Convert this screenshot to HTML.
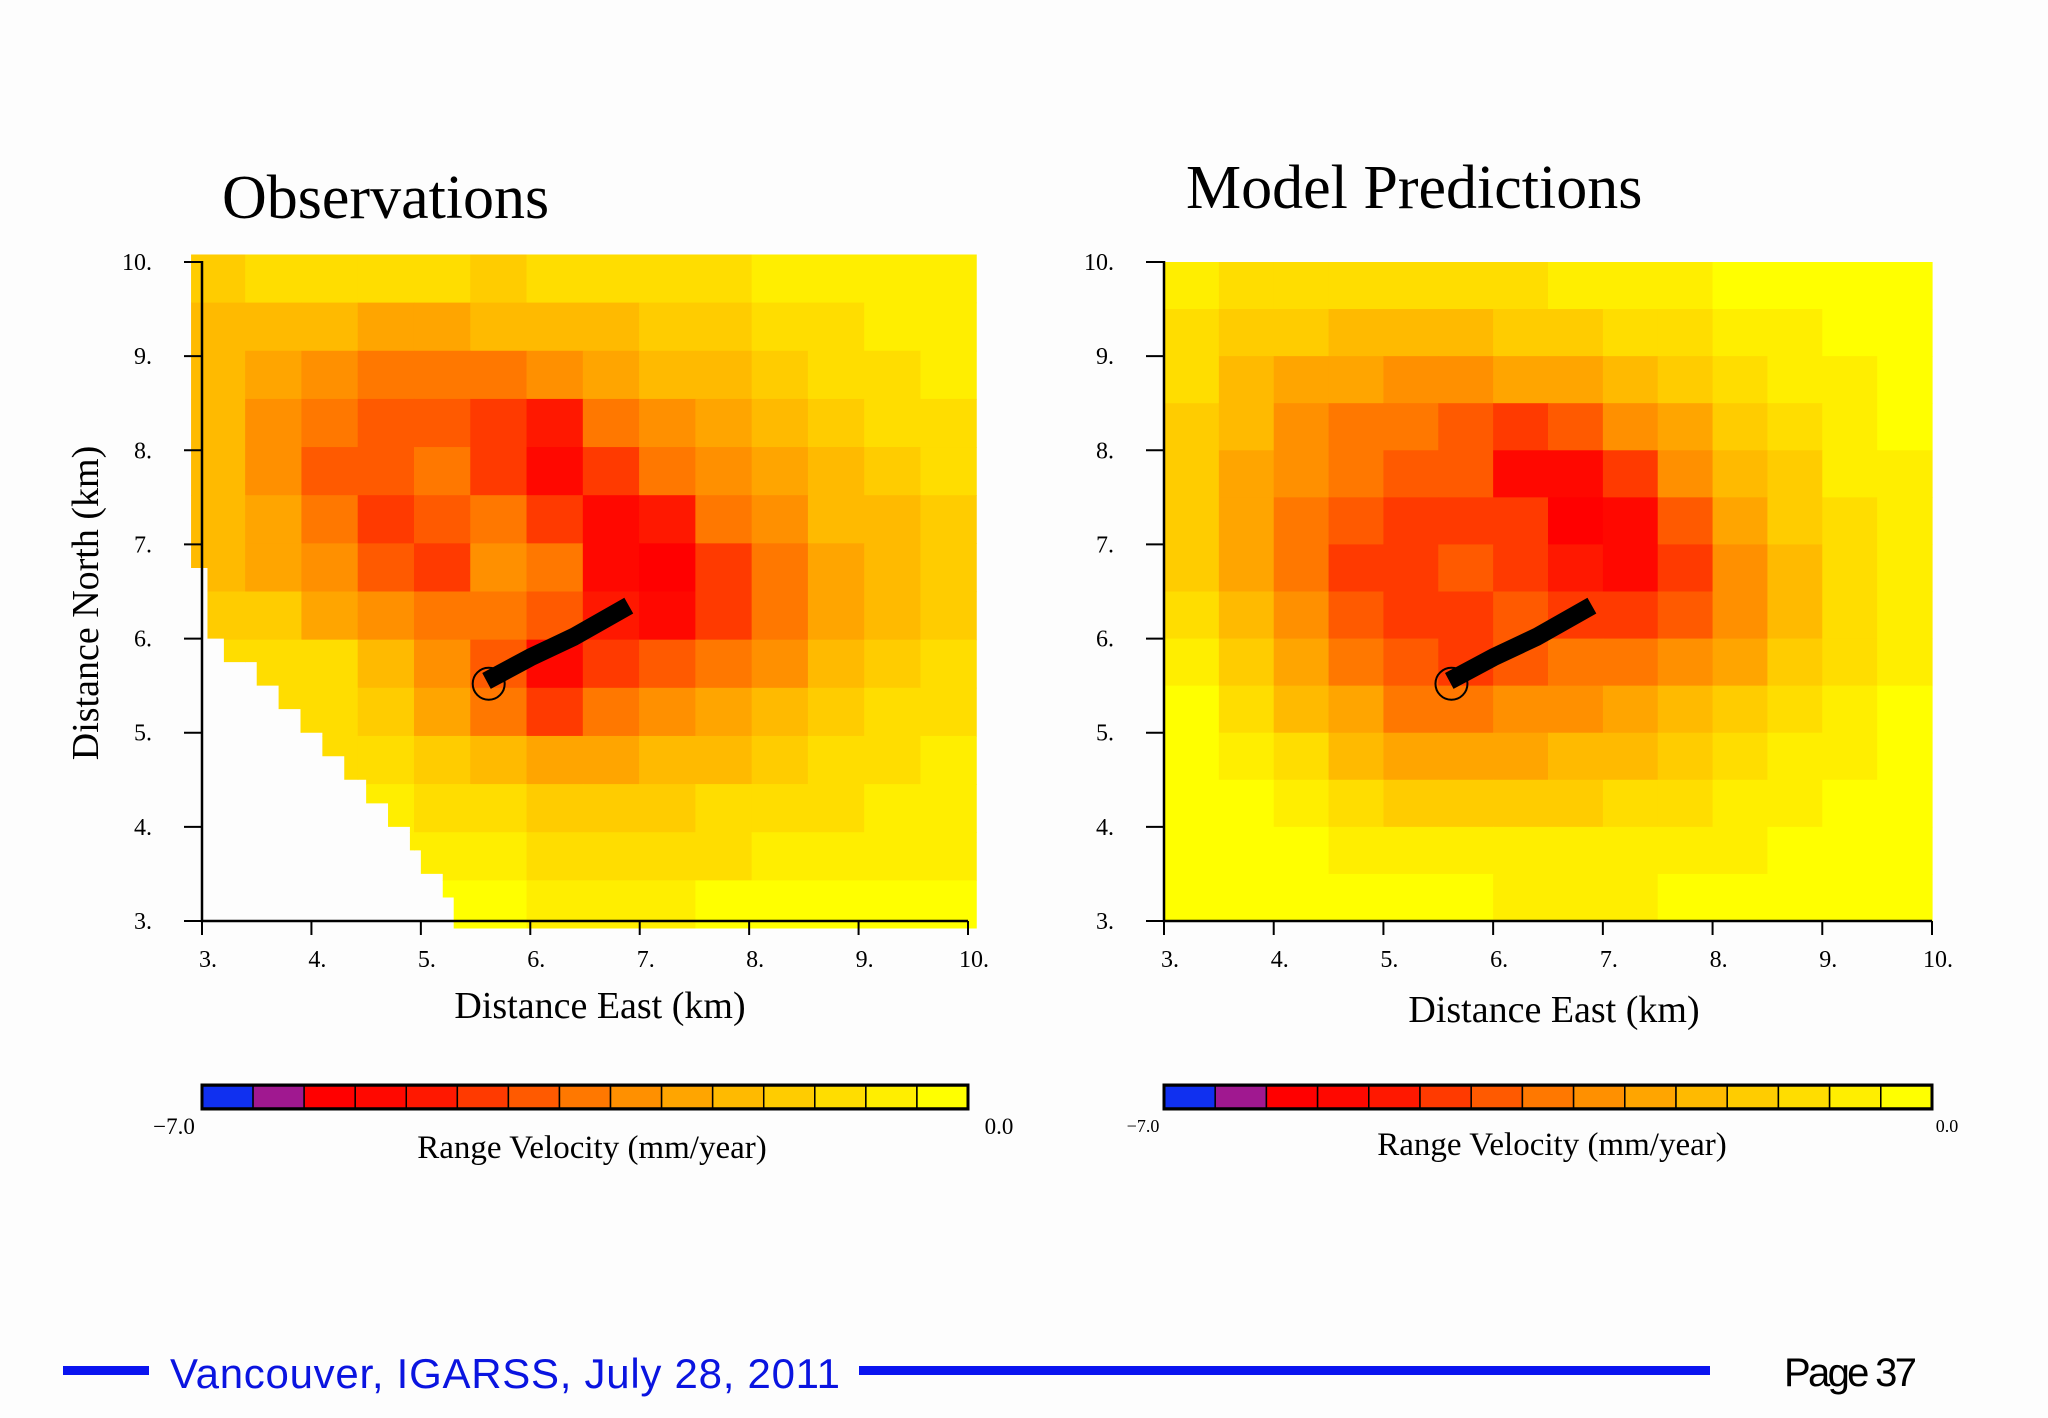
<!DOCTYPE html>
<html><head><meta charset="utf-8"><style>
body{margin:0;background:#fdfdfd;}
svg{display:block;}
text{font-family:"Liberation Serif",serif;fill:#000;}
</style></head><body>
<svg width="2048" height="1418" viewBox="0 0 2048 1418" xmlns="http://www.w3.org/2000/svg">
<rect width="2048" height="1418" fill="#fdfdfd"/>
<text x="222" y="218" font-size="62">Observations</text>
<text x="1186" y="208" font-size="62">Model Predictions</text>
<g id="obs"></g>
<g id="mod"></g>
<g id="cb"></g>
<text x="600" y="1018" font-size="38" text-anchor="middle">Distance East (km)</text>
<text x="1554" y="1022" font-size="38" text-anchor="middle">Distance East (km)</text>
<text transform="translate(98,603) rotate(-90)" font-size="38" text-anchor="middle">Distance North (km)</text>
<text x="592" y="1158" font-size="33" text-anchor="middle">Range Velocity (mm/year)</text>
<text x="1552" y="1155" font-size="33" text-anchor="middle">Range Velocity (mm/year)</text>
<text x="174" y="1134" font-size="23" text-anchor="middle">−7.0</text>
<text x="999" y="1134" font-size="23" text-anchor="middle">0.0</text>
<text x="1143" y="1132" font-size="18" text-anchor="middle">−7.0</text>
<text x="1947" y="1132" font-size="18" text-anchor="middle">0.0</text>
<rect x="63" y="1366" width="86" height="9" fill="#0a14f0"/>
<text x="170" y="1388" font-size="42" style="font-family:'Liberation Sans',sans-serif;fill:#0a14e0" textLength="670">Vancouver, IGARSS, July 28, 2011</text>
<rect x="859" y="1366" width="851" height="9" fill="#0a14f0"/>
<text x="1784" y="1386" font-size="40" style="font-family:'Liberation Sans',sans-serif" textLength="133">Page 37</text>
</svg>
<script>
const levelColors=["#1030f0","#a01890","#ff0000","#ff0800","#ff1800","#ff3a00","#ff5a00","#ff7800","#ff9000","#ffa500","#ffba00","#ffcc00","#ffdd00","#ffee00","#ffff00"];
const xTicks=["3.","4.","5.","6.","7.","8.","9.","10."];
const yTicks=["3.","4.","5.","6.","7.","8.","9.","10."];
const obsGrid=[
[11,12,12,12,12,11,12,12,12,12,13,13,13,13],
[10,10,10,9,9,10,10,10,11,11,12,12,13,13],
[10,9,8,7,7,7,8,9,10,10,11,12,12,13],
[10,8,7,6,6,5,4,7,8,9,10,11,12,12],
[10,8,6,6,7,5,3,5,7,8,9,10,11,12],
[10,9,7,5,6,7,5,3,4,7,8,10,10,11],
[10,9,8,6,5,8,7,3,2,5,7,9,10,11],
[11,11,9,8,7,7,6,4,3,5,7,9,10,11],
[12,12,12,10,8,6,3,5,6,7,8,10,11,12],
[12,12,12,11,9,7,5,7,8,9,10,11,12,12],
[12,12,12,12,11,10,9,9,10,10,11,12,12,13],
[13,13,13,13,12,12,11,11,11,12,12,12,13,13],
[13,13,13,13,13,13,12,12,12,12,13,13,13,13],
[14,14,14,14,14,14,13,13,13,14,14,14,14,14]];
const modelGrid=[
[13,12,12,12,12,12,12,13,13,13,14,14,14,14],
[12,11,11,10,10,10,11,11,12,12,13,13,14,14],
[12,10,9,9,8,8,9,9,10,11,12,13,13,14],
[11,10,8,7,7,6,5,6,8,9,11,12,13,14],
[11,9,8,7,6,6,3,3,5,8,10,11,13,13],
[11,9,7,6,5,5,5,2,3,6,9,11,12,13],
[11,9,7,5,5,6,5,4,3,5,8,10,12,13],
[12,10,8,6,5,5,6,5,5,6,8,10,12,13],
[13,11,9,7,6,5,6,7,7,8,9,11,12,13],
[14,12,10,9,7,7,8,8,9,10,11,12,13,14],
[14,13,12,10,9,9,9,10,10,11,12,13,13,14],
[14,14,13,12,11,11,11,11,12,12,13,13,14,14],
[14,14,14,13,13,13,13,13,13,13,13,14,14,14],
[14,14,14,14,14,14,13,13,13,14,14,14,14,14]];
const obsMinX=[2.9,2.9,2.9,2.9,2.9,2.9,2.9,2.9,2.9,2.9,2.9,2.9,2.9,3.05,3.05,3.05,3.2,3.5,3.7,3.9,4.1,4.3,4.5,4.7,4.9,5.0,5.2,5.3];
const faultX=[5.6,6.0,6.4,6.9];
const faultY=[5.55,5.8,6.02,6.35];
const epicenter=[5.62,5.52];
const NS="http://www.w3.org/2000/svg";
function mk(p,tag,at){const e=document.createElementNS(NS,tag);for(const k in at)e.setAttribute(k,at[k]);p.appendChild(e);return e;}
function draw(gid,x0,x1,grid,ext,clip,prefix){
  const g=document.getElementById(gid);
  const y0=262,y1=921;
  const sx=v=>x0+(v-3)/7*(x1-x0);
  const sy=v=>y1-(v-3)/7*(y1-y0);
  const hm=mk(g,'g',{});
  
  
  if(clip){
    let pts=[];
    clip.forEach((m,i)=>{let ya=10-i*0.25,yb=ya-0.25;if(i===0)ya=ext[2];if(i===clip.length-1)yb=ext[3];pts.push(sx(m)+','+sy(ya));pts.push(sx(m)+','+sy(yb));});
    pts.push(sx(ext[1])+','+sy(ext[3]));pts.push(sx(ext[1])+','+sy(ext[2]));
    const cp=mk(g,'clipPath',{id:gid+'clip'});
    mk(cp,'polygon',{points:pts.join(' ')});
    hm.setAttribute('clip-path','url(#'+gid+'clip)');
  }
  const n=grid.length,m=grid[0].length;
  const cw=(sx(ext[1])-sx(ext[0]))/m,ch=(sy(ext[3])-sy(ext[2]))/n;
  grid.forEach((row,r)=>row.forEach((v,c)=>{
    const rc=mk(hm,'rect',{x:sx(ext[0])+c*cw,y:sy(ext[2])+r*ch,width:cw+0.6,height:ch+0.6,fill:levelColors[v]});
    
    
  }));
  let d='';faultX.forEach((fx,i)=>{d+=(i?'L':'M')+sx(fx)+' '+sy(faultY[i]);});
  const f=mk(g,'path',{d:d,stroke:'#000','stroke-width':18,fill:'none','stroke-linejoin':'round'});
  
  
  const ci=mk(g,'circle',{cx:sx(epicenter[0]),cy:sy(epicenter[1]),r:16,fill:'none',stroke:'#000','stroke-width':2});
  
  
  const ax=mk(g,'path',{d:`M${x0} ${y0-1}V${y1}H${x1}`,stroke:'#000','stroke-width':2.5,fill:'none'});
  
  
  xTicks.forEach((t,i)=>{
    const x=sx(3+i);
    mk(g,'line',{x1:x,x2:x,y1:y1,y2:y1+14,stroke:'#000','stroke-width':2});
    const tx=mk(g,'text',{x:x+6,y:y1+46,'font-size':24,'text-anchor':'middle'});tx.textContent=t;
    
    
  });
  yTicks.forEach((t,i)=>{
    const y=sy(3+i);
    mk(g,'line',{x1:x0-18,x2:x0,y1:y,y2:y,stroke:'#000','stroke-width':2});
    const tx=mk(g,'text',{x:x0-50,y:y+8,'font-size':24,'text-anchor':'end'});tx.textContent=t;
    
    
  });
}
draw('obs',202,968,obsGrid,[2.88,10.08,10.08,2.92],obsMinX,'obs');
draw('mod',1164,1932,modelGrid,[3,10,10,3],null,'model');
const cb=document.getElementById('cb');
[[202,968,'obs'],[1164,1932,'model']].forEach(([a,b,p])=>{
  const w=(b-a)/levelColors.length;
  levelColors.forEach((c,i)=>{
    const r=mk(cb,'rect',{x:a+i*w,y:1086,width:w,height:22,fill:c,stroke:'#000','stroke-width':1.5});
    
    
  });
  mk(cb,'rect',{x:a,y:1085,width:b-a,height:24,fill:'none',stroke:'#000','stroke-width':3});
});
</script>
</body></html>
